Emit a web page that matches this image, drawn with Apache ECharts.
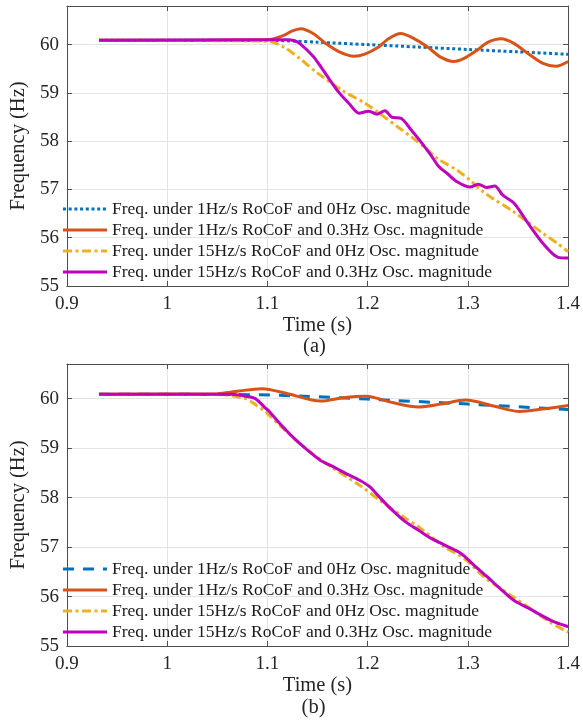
<!DOCTYPE html>
<html>
<head>
<meta charset="utf-8">
<script src="https://cdn.jsdelivr.net/npm/echarts@6/dist/echarts.min.js"></script>
<style>
html,body{margin:0;padding:0;background:#fff;}
#chart{width:583px;height:724px;}
</style>
</head>
<body>
<div id="chart"></div>
<script>
// ---------- Data ----------
const seriesNames = [
  'Freq. under 1Hz/s RoCoF and 0Hz Osc. magnitude',
  'Freq. under 1Hz/s RoCoF and 0.3Hz Osc. magnitude',
  'Freq. under 15Hz/s RoCoF and 0Hz Osc. magnitude',
  'Freq. under 15Hz/s RoCoF and 0.3Hz Osc. magnitude'
];
const xTicks = [0.9, 1.0, 1.1, 1.2, 1.3, 1.4];
const yTicks = [55, 56, 57, 58, 59, 60];

// Plot (a)
const aBlueT = [0.932, 1.1, 1.15, 1.2, 1.25, 1.3, 1.35, 1.4];
const aBlueF = [60.09, 60.09, 60.05, 60.0, 59.95, 59.9, 59.85, 59.8];

const aOrangeT = [0.932, 1.1, 1.1162, 1.1243, 1.1335, 1.1456, 1.1586, 1.1717, 1.1864, 1.1978, 1.2109, 1.2207, 1.233, 1.2467, 1.2598, 1.2729, 1.2859, 1.2957, 1.3088, 1.3202, 1.3333, 1.3463, 1.3603, 1.375, 1.3877, 1.4];
const aOrangeF = [60.09, 60.1, 60.19, 60.28, 60.33, 60.23, 60.02, 59.85, 59.76, 59.81, 59.95, 60.12, 60.23, 60.12, 59.95, 59.74, 59.65, 59.71, 59.88, 60.05, 60.12, 60.02, 59.81, 59.61, 59.55, 59.65];

const aYellowT = [0.932, 1.1, 1.1162, 1.1325, 1.1488, 1.175, 1.1978, 1.2141, 1.2304, 1.2435, 1.2565, 1.2696, 1.2892, 1.3022, 1.3153, 1.3251, 1.3463, 1.36, 1.375, 1.3895, 1.4];
const aYellowF = [60.09, 60.07, 59.95, 59.71, 59.43, 59.05, 58.78, 58.54, 58.29, 58.09, 57.88, 57.64, 57.40, 57.19, 56.95, 56.81, 56.53, 56.32, 56.09, 55.88, 55.71];

const aMagentaT = [0.932, 1.1, 1.12, 1.127, 1.1325, 1.1456, 1.152, 1.1619, 1.1717, 1.1815, 1.1913, 1.2011, 1.2092, 1.2173, 1.2239, 1.2337, 1.2435, 1.2533, 1.2631, 1.2712, 1.2794, 1.2892, 1.3022, 1.3104, 1.3186, 1.3267, 1.3349, 1.3463, 1.3603, 1.375, 1.3895, 1.4];
const aMagentaF = [60.09, 60.1, 60.1, 60.08, 60.02, 59.76, 59.58, 59.28, 59.0, 58.78, 58.58, 58.62, 58.56, 58.63, 58.5, 58.47, 58.23, 57.98, 57.71, 57.47, 57.33, 57.16, 57.05, 57.11, 57.04, 57.07, 56.88, 56.71, 56.29, 55.88, 55.6, 55.58];

// Plot (b)
const bBlueT = [0.932, 1.08, 1.1366, 1.2, 1.3, 1.4];
const bBlueF = [60.09, 60.08, 60.05, 59.99, 59.89, 59.78];

const bOrangeT = [0.932, 1.05, 1.07, 1.0943, 1.1203, 1.153, 1.1758, 1.1986, 1.2247, 1.2508, 1.2735, 1.298, 1.3257, 1.3518, 1.3746, 1.4];
const bOrangeF = [60.09, 60.1, 60.15, 60.2, 60.1, 59.95, 60.02, 60.05, 59.92, 59.83, 59.89, 59.97, 59.85, 59.74, 59.79, 59.86];

const bYellowT = [0.932, 1.053, 1.078, 1.088, 1.0975, 1.101, 1.114, 1.14, 1.166, 1.192, 1.2117, 1.2378, 1.2508, 1.2769, 1.2964, 1.316, 1.3453, 1.365, 1.383, 1.4];
const bYellowF = [60.09, 60.08, 60.0, 59.88, 59.75, 59.68, 59.43, 58.96, 58.59, 58.25, 57.95, 57.58, 57.41, 57.0, 56.77, 56.40, 55.99, 55.72, 55.47, 55.28];

const bMagentaT = [0.932, 1.065, 1.078, 1.088, 1.0975, 1.101, 1.114, 1.127, 1.14, 1.153, 1.166, 1.179, 1.192, 1.202, 1.2117, 1.2248, 1.2378, 1.2508, 1.2638, 1.2769, 1.2932, 1.3062, 1.3192, 1.3322, 1.3453, 1.3609, 1.3827, 1.4];
const bMagentaF = [60.09, 60.09, 60.05, 60.0, 59.82, 59.76, 59.46, 59.19, 58.96, 58.75, 58.62, 58.48, 58.35, 58.22, 58.01, 57.74, 57.51, 57.34, 57.17, 57.04, 56.87, 56.63, 56.40, 56.16, 55.93, 55.76, 55.52, 55.39];

// ---------- Styles ----------
const FONT = '"Liberation Serif", "Times New Roman", serif';
const COLORS = ['#0072BD', '#D95319', '#EDB120', '#BF00BF'];
const AXIS_COLOR = '#4d4d4d';
const TEXT_COLOR = '#262626';
const DOTTED = [3, 2.7];
const DASHED = [11, 9];
const DASHDOT = [9, 3.5, 3, 3.5];

const zip = (t, f) => t.map((v, i) => [v, f[i]]);

function xAxis(gridIndex, pos) {
  const main = pos === 'bottom';
  return {
    type: 'value', gridIndex, position: pos,
    min: xTicks[0], max: xTicks[xTicks.length - 1], interval: 0.1,
    name: main ? 'Time (s)' : '', nameLocation: 'middle', nameGap: 27,
    nameTextStyle: {fontFamily: FONT, fontSize: 20.5, color: TEXT_COLOR},
    axisLine: {show: true, onZero: false, lineStyle: {color: AXIS_COLOR, width: 1}},
    axisTick: {show: true, inside: true, length: 5, lineStyle: {color: AXIS_COLOR}},
    axisLabel: {show: main, margin: 9, fontFamily: FONT, fontSize: 19, color: TEXT_COLOR},
    splitLine: {show: main, lineStyle: {color: '#e3e3e3', width: 1}}
  };
}
function yAxis(gridIndex, pos, ymax) {
  const main = pos === 'left';
  return {
    type: 'value', gridIndex, position: pos,
    min: yTicks[0], max: ymax, interval: 1,
    name: main ? 'Frequency (Hz)' : '', nameLocation: 'middle', nameGap: 33,
    nameTextStyle: {fontFamily: FONT, fontSize: 20.5, color: TEXT_COLOR},
    axisLine: {show: true, onZero: false, lineStyle: {color: AXIS_COLOR, width: 1}},
    axisTick: {show: true, inside: true, length: 5, lineStyle: {color: AXIS_COLOR}},
    axisLabel: {show: main, margin: 8, fontFamily: FONT, fontSize: 19, color: TEXT_COLOR,
      showMaxLabel: false,
      formatter: v => (yTicks.indexOf(Math.round(v * 1000) / 1000) >= 0 ? String(Math.round(v)) : '')},
    splitLine: {show: main, lineStyle: {color: '#e3e3e3', width: 1}}
  };
}

function line(name, data, color, type, axisIdx) {
  return {
    type: 'line', name, data, xAxisIndex: axisIdx, yAxisIndex: axisIdx,
    showSymbol: false, symbol: 'none', smooth: 0.3, animation: false,
    lineStyle: {color, width: 3, type},
    itemStyle: {color}
  };
}

function legend(top, blueType) {
  return {
    orient: 'vertical', left: 61.5, top, padding: 0,
    itemWidth: 44, itemHeight: 21, itemGap: 0,
    selectedMode: false,
    itemStyle: {opacity: 0},
    lineStyle: {width: 3},
    textStyle: {fontFamily: FONT, fontSize: 17.5, color: '#1a1a1a', lineHeight: 21},
    data: seriesNames.map((n, i) => i === 0 ? {name: n, lineStyle: {type: blueType, width: 3}} : {name: n})
  };
}

const chart = echarts.init(document.getElementById('chart'), null, {renderer: 'canvas'});
chart.setOption({
  animation: false,
  backgroundColor: '#fff',
  grid: [
    {left: 59, top: 6, width: 511, height: 280},
    {left: 58, top: 364, width: 511, height: 282}
  ],
  xAxis: [xAxis(0, 'bottom'), xAxis(0, 'top'), xAxis(1, 'bottom'), xAxis(1, 'top')],
  yAxis: [yAxis(0, 'left', 60.8), yAxis(0, 'right', 60.8), yAxis(1, 'left', 60.7), yAxis(1, 'right', 60.7)],
  legend: [legend(198.5, DOTTED), legend(558.5, DASHED)],
  series: [
    line(seriesNames[0], zip(aBlueT, aBlueF), COLORS[0], DOTTED, 0),
    line(seriesNames[1], zip(aOrangeT, aOrangeF), COLORS[1], 'solid', 0),
    line(seriesNames[2], zip(aYellowT, aYellowF), COLORS[2], DASHDOT, 0),
    line(seriesNames[3], zip(aMagentaT, aMagentaF), COLORS[3], 'solid', 0),
    line(seriesNames[0], zip(bBlueT, bBlueF), COLORS[0], DASHED, 2),
    line(seriesNames[1], zip(bOrangeT, bOrangeF), COLORS[1], 'solid', 2),
    line(seriesNames[2], zip(bYellowT, bYellowF), COLORS[2], DASHDOT, 2),
    line(seriesNames[3], zip(bMagentaT, bMagentaF), COLORS[3], 'solid', 2)
  ],
  graphic: [
    {type: 'text', x: 314.5, y: 347, style: {text: '(a)', font: '20.5px ' + FONT, fill: TEXT_COLOR, align: 'center', verticalAlign: 'middle'}},
    {type: 'text', x: 313.5, y: 708, style: {text: '(b)', font: '20.5px ' + FONT, fill: TEXT_COLOR, align: 'center', verticalAlign: 'middle'}}
  ]
});
</script>
</body>
</html>
